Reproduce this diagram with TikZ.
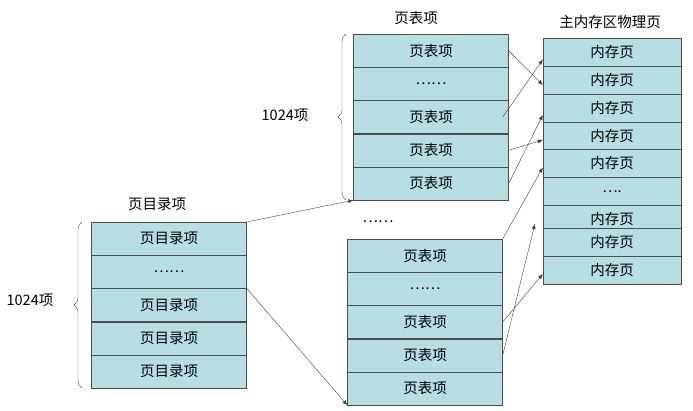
\documentclass[tikz,border=0pt]{standalone}
\usepackage{fontspec}
\setmainfont{Noto Sans CJK SC}
\usetikzlibrary{positioning, arrows.meta, decorations.pathreplacing}
\definecolor{cellfill}{RGB}{183,222,227}
\begin{document}
\begin{tikzpicture}[
    x=1pt, y=-1pt,
    cell/.style={draw=black!70, fill=cellfill, rectangle, minimum width=155pt, minimum height=33pt, inner sep=0pt, font=\fontsize{14.5}{16}\selectfont},
    mem/.style={cell, minimum width=138pt, minimum height=28pt},
    title/.style={font=\fontsize{14.5}{16}\selectfont},
    arrow/.style={-{Latex[length=5pt,width=4pt]}, black!75}
]
\useasboundingbox (0,0) rectangle (693,411);

% Page directory
\node[title] (dirtitle) at (157,204) {页目录项};
\foreach \i/\t in {1/页目录项,2/……,3/页目录项,4/页目录项,5/页目录项}
  \node[cell] (dir\i) at (169,{205.5+33.2*\i}) {\t};
\draw[decorate, decoration={brace, amplitude=8pt}, black!70] (82,388) -- (82,222);
\node[title] (dirnum) at (30,300) {1024项};

% Upper page table
\node[title] (tabtitle) at (416,18) {页表项};
\foreach \i/\t in {1/页表项,2/……,3/页表项,4/页表项,5/页表项}
  \node[cell] (up\i) at (431,{17.5+33.2*\i}) {\t};
\draw[decorate, decoration={brace, amplitude=8pt}, black!70] (346,200) -- (346,34);
\node[title] (upnum) at (285,115) {1024项};

% Lower page table
\node[title] (dots) at (378,222) {……};
\foreach \i/\t in {1/页表项,2/……,3/页表项,4/页表项,5/页表项}
  \node[cell] (lo\i) at (425,{222.5+33.2*\i}) {\t};

% Physical pages
\node[title] (memtitle) at (610,22) {主内存区物理页};
\foreach \i/\yy/\t in {1/52.5/内存页,2/80/内存页,3/108/内存页,4/136/内存页,5/163.5/内存页,6/191.5/….,7/219/内存页}
  \node[mem] (mem\i) at (612,\yy) {\t};
\node[mem] (mem8) at (612,242) {内存页};
\node[mem] (mem9) at (612,270) {内存页};

% Connectors
\draw[arrow] (dir1.north east) -- (up5.south west);
\draw[arrow] (dir3.north east) -- (lo5.south west);
\draw[arrow] (up1.east) -- ([yshift=-5pt]mem2.west);
\draw[arrow] ([xshift=-6pt]up3.east) -- ([yshift=-7pt]mem1.west);
\draw[arrow] (up4.east) -- ([yshift=-4pt]mem4.west);
\draw[arrow] (up5.east) -- ([yshift=-7pt]mem3.west);
\draw[arrow] (lo1.north east) -- ([yshift=-4pt]mem5.west);
\draw[arrow] (lo3.east) -- ([yshift=-4pt]mem9.west);
\draw[arrow] (lo4.east) -- ([xshift=-8pt,yshift=-5pt]mem7.west);
\end{tikzpicture}
\end{document}
